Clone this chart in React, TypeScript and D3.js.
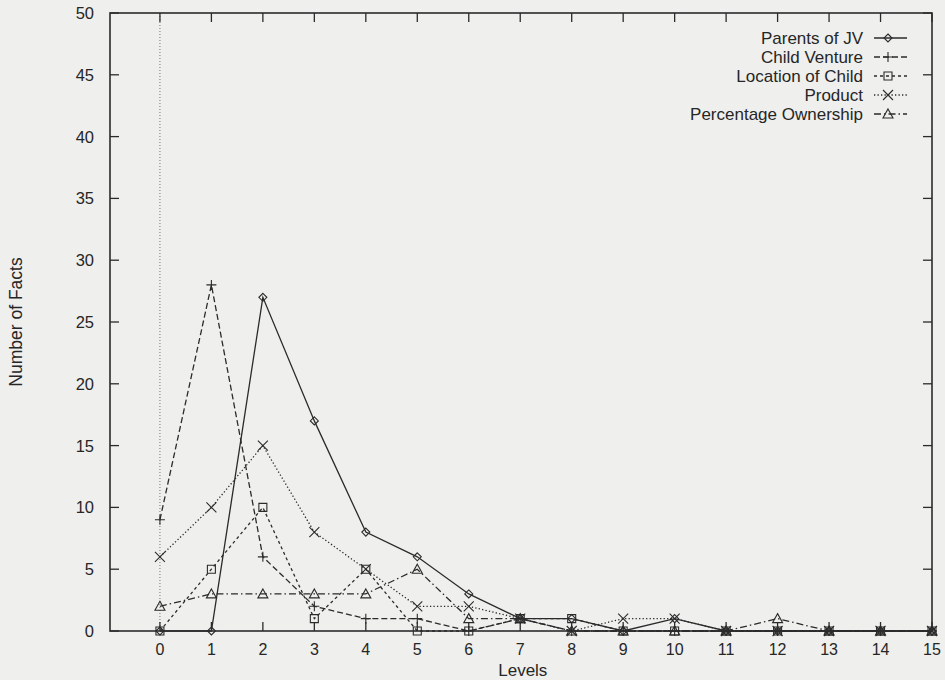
import React, { useEffect, useRef } from 'react';
import * as d3 from 'd3';

// values
const levels = [0, 1, 2, 3, 4, 5, 6, 7, 8, 9, 10, 11, 12, 13, 14, 15];
const parentsOfJV = [0, 0, 27, 17, 8, 6, 3, 1, 1, 0, 1, 0, 0, 0, 0, 0];
const childVenture = [9, 28, 6, 2, 1, 1, 0, 1, 0, 0, 0, 0, 0, 0, 0, 0];
const locationOfChild = [0, 5, 10, 1, 5, 0, 0, 1, 1, 0, 0, 0, 0, 0, 0, 0];
const product = [6, 10, 15, 8, 5, 2, 2, 1, 0, 1, 1, 0, 0, 0, 0, 0];
const percentageOwnership = [2, 3, 3, 3, 3, 5, 1, 1, 0, 0, 0, 0, 1, 0, 0, 0];
const yTicks = [0, 5, 10, 15, 20, 25, 30, 35, 40, 45, 50];

const seriesNames = ['Parents of JV', 'Child Venture', 'Location of Child', 'Product', 'Percentage Ownership'];
const seriesValues = [parentsOfJV, childVenture, locationOfChild, product, percentageOwnership];
const dashes = ['none', '6,3', '3,3', '1.3,2.2', '7,3,1.5,3'];
const symbols = ['diamond', 'plus', 'square', 'cross', 'triangle'];

const INK = '#2b2b2b';
const FONT = '"Liberation Sans", Arial, Helvetica, sans-serif';

function symbolPath(type: string, x: number, y: number): string {
    switch (type) {
        case 'diamond':
            return `M${x},${y - 4}L${x + 4},${y}L${x},${y + 4}L${x - 4},${y}Z`;
        case 'plus':
            return `M${x - 5},${y}H${x + 5}M${x},${y - 5}V${y + 5}`;
        case 'square':
            return `M${x - 4},${y - 4}H${x + 4}V${y + 4}H${x - 4}Z`;
        case 'cross':
            return `M${x - 5},${y - 5}L${x + 5},${y + 5}M${x - 5},${y + 5}L${x + 5},${y - 5}`;
        default:
            return `M${x},${y - 5}L${x + 5},${y + 4}H${x - 5}Z`;
    }
}

function Chart() {
    const ref = useRef<SVGSVGElement>(null);

    useEffect(() => {
        document.body.style.margin = '0';
        const width = 945;
        const height = 680;
        const left = 110, right = 932, top = 13, bottom = 631;

        const svg = d3.select(ref.current);
        svg.selectAll('*').remove();
        svg.attr('width', width).attr('height', height);

        svg.append('rect').attr('width', width).attr('height', height).attr('fill', '#efefed');

        const x = d3.scaleLinear().domain([-0.97, 15]).range([left, right]);
        const y = d3.scaleLinear().domain([0, 50]).range([bottom, top]);

        // dotted zero axis at level 0
        svg.append('line')
            .attr('x1', x(0)).attr('x2', x(0))
            .attr('y1', top).attr('y2', bottom)
            .attr('stroke', '#555')
            .attr('stroke-width', 0.8)
            .attr('stroke-dasharray', '1,2');

        const g = svg.append('g')
            .attr('stroke', INK)
            .attr('stroke-width', 1.3)
            .attr('fill', 'none');

        // ticks, mirrored on all four sides, pointing inward
        yTicks.forEach(t => {
            g.append('line').attr('x1', left).attr('x2', left + 9).attr('y1', y(t)).attr('y2', y(t));
            g.append('line').attr('x1', right).attr('x2', right - 9).attr('y1', y(t)).attr('y2', y(t));
        });
        levels.forEach(t => {
            g.append('line').attr('x1', x(t)).attr('x2', x(t)).attr('y1', bottom).attr('y2', bottom - 9);
            g.append('line').attr('x1', x(t)).attr('x2', x(t)).attr('y1', top).attr('y2', top + 9);
        });

        // series
        const line = d3.line<number>().x((d, i) => x(levels[i])).y(d => y(d));
        seriesValues.forEach((vals, s) => {
            g.append('path')
                .attr('d', line(vals))
                .attr('stroke-dasharray', dashes[s]);
            vals.forEach((v, i) => {
                g.append('path')
                    .attr('d', symbolPath(symbols[s], x(levels[i]), y(v)))
                    .attr('stroke-width', 1.1);
            });
        });

        // frame
        g.append('rect')
            .attr('x', left).attr('y', top)
            .attr('width', right - left).attr('height', bottom - top)
            .attr('stroke-width', 1.6);

        const text = svg.append('g')
            .attr('fill', '#262626')
            .style('font-family', FONT);

        yTicks.forEach(t => {
            text.append('text')
                .attr('x', 94).attr('y', y(t) + 6)
                .attr('text-anchor', 'end')
                .style('font-size', '16.5px')
                .text(t);
        });
        levels.forEach(t => {
            text.append('text')
                .attr('x', x(t)).attr('y', 655)
                .attr('text-anchor', 'middle')
                .style('font-size', '16px')
                .text(t);
        });

        text.append('text')
            .attr('x', x(7.05)).attr('y', 676)
            .attr('text-anchor', 'middle')
            .style('font-size', '17px')
            .text('Levels');

        text.append('text')
            .attr('transform', `translate(22,${(top + bottom) / 2}) rotate(-90)`)
            .attr('text-anchor', 'middle')
            .style('font-size', '17.5px')
            .text('Number of Facts');

        // legend
        seriesNames.forEach((name, s) => {
            const ly = 38 + s * 19;
            text.append('text')
                .attr('x', 863).attr('y', ly + 6)
                .attr('text-anchor', 'end')
                .style('font-size', '17px')
                .text(name);
            g.append('line')
                .attr('x1', 874).attr('x2', 907)
                .attr('y1', ly).attr('y2', ly)
                .attr('stroke-dasharray', dashes[s]);
            g.append('path')
                .attr('d', symbolPath(symbols[s], 888, ly))
                .attr('stroke-width', 1.1);
        });
    }, []);

    return <svg ref={ref} style={{ display: 'block' }}></svg>;
}

export default function App() {
    return <Chart />;
}
